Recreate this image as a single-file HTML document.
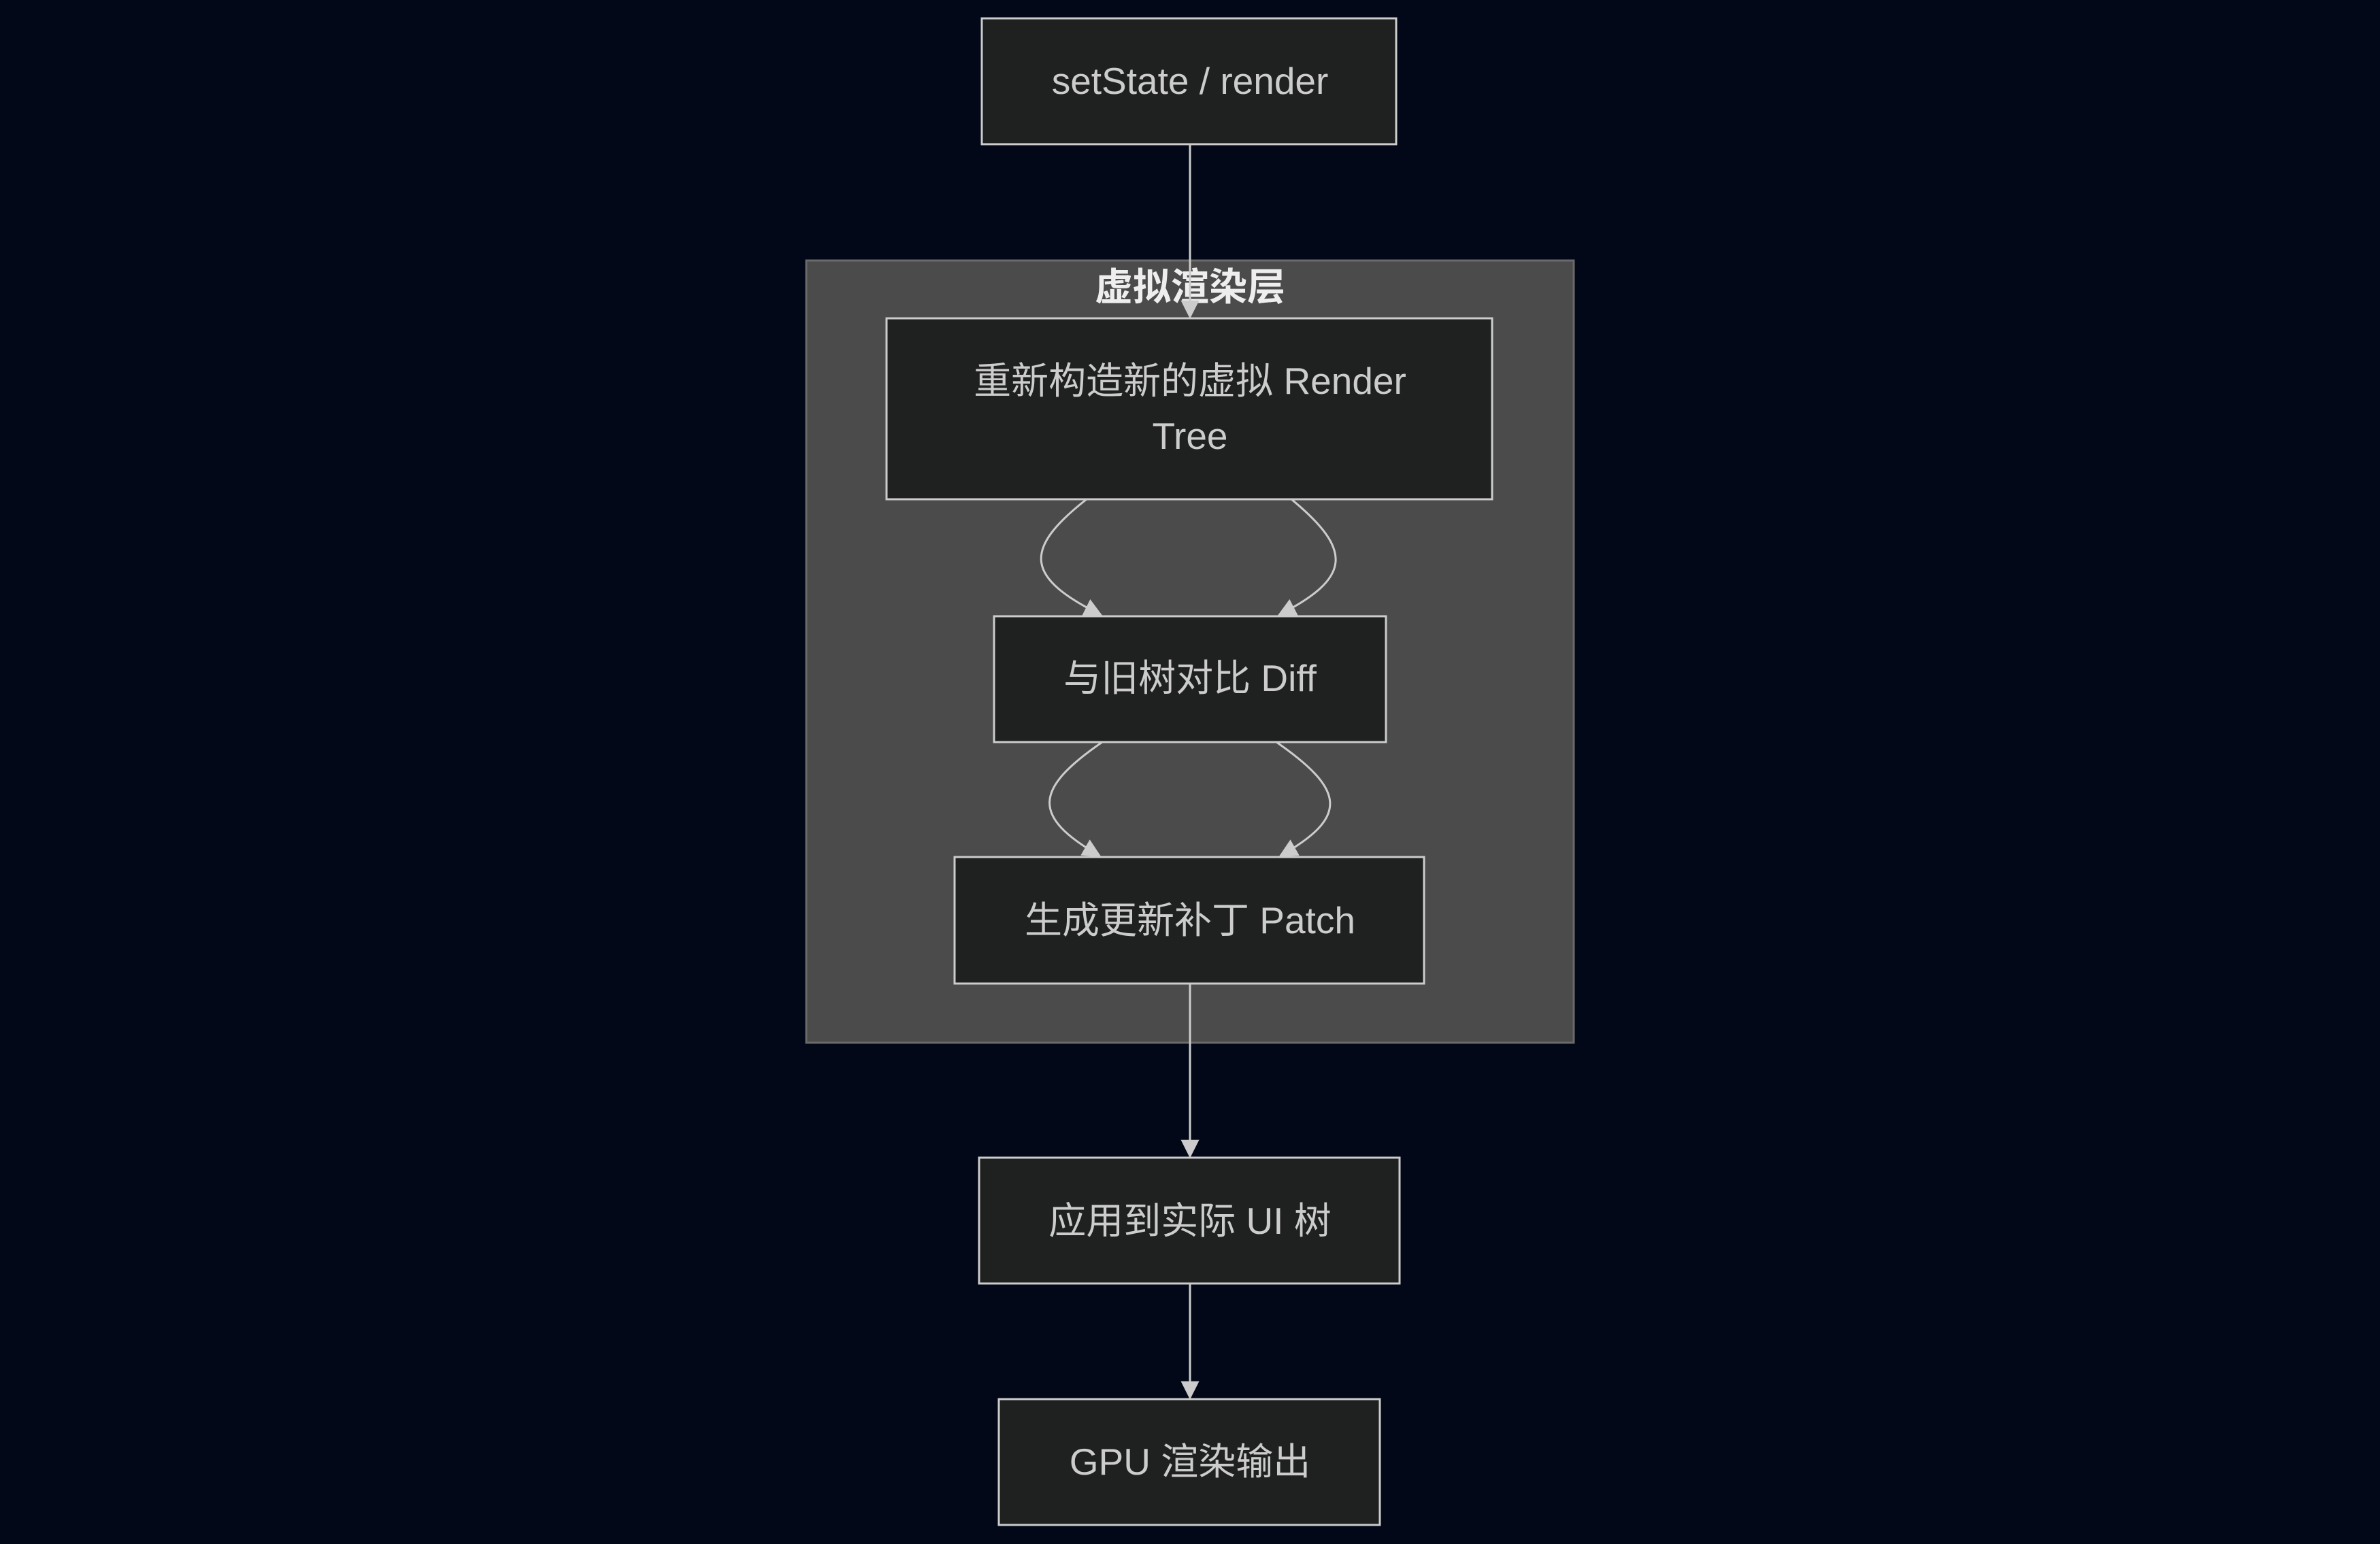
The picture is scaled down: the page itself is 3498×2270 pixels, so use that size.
<!DOCTYPE html>
<html><head><meta charset="utf-8"><style>
html,body{margin:0;padding:0;background:#020817;}
svg{display:block}
text{font-family:"Liberation Sans","Noto Sans CJK SC",sans-serif;fill:#cccccc;font-size:55px;text-anchor:middle;dominant-baseline:central}
</style></head><body>
<svg width="3498" height="2270" viewBox="0 0 3498 2270" xmlns="http://www.w3.org/2000/svg">
<defs><marker id="a" viewBox="0 0 10 10" refX="9" refY="5" markerWidth="9" markerHeight="9" orient="auto"><path d="M0,0L10,5L0,10z" fill="#cccccc"/></marker></defs>
<rect x="1185" y="383" width="1128" height="1150" fill="#4a4b4a" stroke="#6a6a6a" stroke-width="3"/>
<text x="1749" y="422" style="fill:#eeeeee;font-size:56px;font-weight:bold">虚拟渲染层</text>
<g fill="none" stroke="#cccccc" stroke-width="3" marker-end="url(#a)">
<path d="M1749,212L1749,466"/>
<path d="M1597,734C1500,810 1510,850 1618,904"/>
<path d="M1898,734C1990,810 1985,850 1880,904"/>
<path d="M1620,1091C1520,1160 1515,1200 1616,1258"/>
<path d="M1876,1091C1975,1160 1985,1200 1882,1258"/>
<path d="M1749,1446L1749,1700"/>
<path d="M1749,1887L1749,2055"/>
</g>
<g fill="#1f2020" stroke="#cccccc" stroke-width="3">
<rect x="1443" y="27" width="609" height="185"/>
<rect x="1303" y="468" width="890" height="266"/>
<rect x="1461" y="906" width="576" height="185"/>
<rect x="1403" y="1260" width="690" height="186"/>
<rect x="1439" y="1702" width="618" height="185"/>
<rect x="1468" y="2057" width="560" height="185"/>
</g>
<text x="1749" y="119">setState / render</text>
<text x="1749" y="560">重新构造新的虚拟 Render</text>
<text x="1749" y="641">Tree</text>
<text x="1749" y="997">与旧树对比 Diff</text>
<text x="1749" y="1353">生成更新补丁 Patch</text>
<text x="1749" y="1795">应用到实际 UI 树</text>
<text x="1749" y="2149">GPU 渲染输出</text>
</svg>
</body></html>
